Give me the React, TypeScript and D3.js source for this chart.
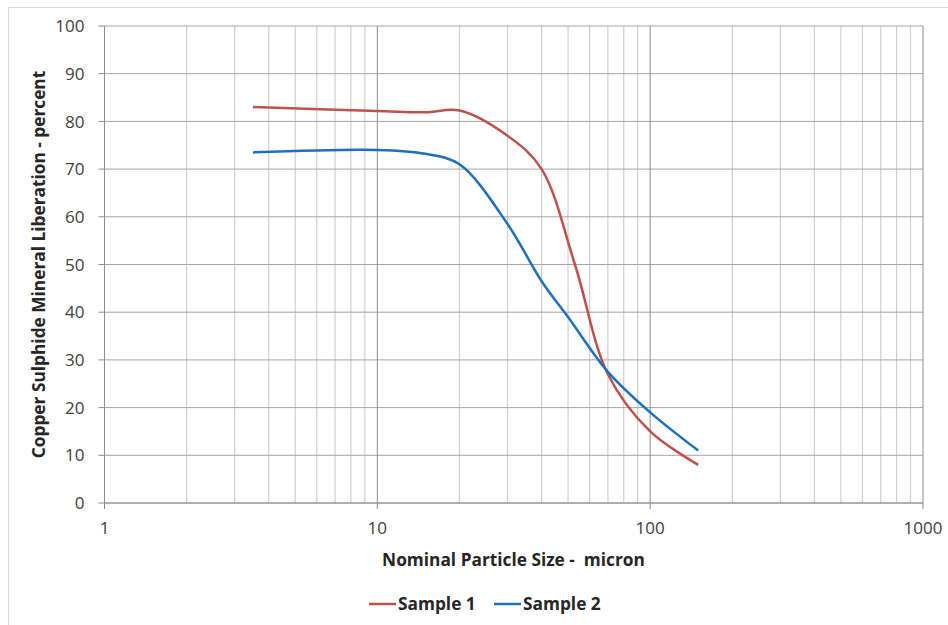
import React from "react";
import * as d3 from "d3";

const sizes1 = [3.5, 10, 15, 20, 30, 40, 53, 70, 100, 150];
const sample1 = [83, 82.2, 81.9, 82.3, 77, 70, 50, 27, 15, 8];
const sizes2 = [3.5, 10, 15, 20, 30, 40, 50, 70, 100, 150];
const sample2 = [73.5, 74, 73.2, 71, 58.5, 46.5, 39, 27.5, 19, 11];
const xTicks = [1, 10, 100, 1000];
const yTicks = [0, 10, 20, 30, 40, 50, 60, 70, 80, 90, 100];
const seriesNames = ["Sample 1", "Sample 2"];
const colors = ["#c0504d", "#1f6fc0"];

const W = 948, H = 625;
const L = 104.5, R = 923, T = 26, B = 503;
const FONT = "'Open Sans', Lato, sans-serif";

export default function App() {
  const x = d3.scaleLog().domain([1, 1000]).range([L, R]);
  const y = d3.scaleLinear().domain([0, 100]).range([B, T]);
  const minor: number[] = [];
  for (const d of [1, 10, 100]) for (let k = 2; k <= 9; k++) minor.push(d * k);
  const line = d3
    .line<[number, number]>()
    .x((d) => x(d[0]))
    .y((d) => y(d[1]))
    .curve(d3.curveCatmullRom.alpha(0.5));
  const data1 = sizes1.map((s, i) => [s, sample1[i]] as [number, number]);
  const data2 = sizes2.map((s, i) => [s, sample2[i]] as [number, number]);

  return (
    <svg
      width={W}
      height={H}
      style={{ position: "absolute", left: 0, top: 0, background: "#fff" }}
      fontFamily={FONT}
    >
      <rect x={8.5} y={7.5} width={W + 10} height={H + 10} fill="#fff" stroke="#d9d9d9" strokeWidth={1} />
      {minor.map((m) => (
        <line key={"mn" + m} x1={x(m)} x2={x(m)} y1={T} y2={B} stroke="#cfcfcf" strokeWidth={1.2} />
      ))}
      {yTicks.map((t) => (
        <line key={"yg" + t} x1={L} x2={R} y1={y(t)} y2={y(t)} stroke="#a6a6a6" strokeWidth={1} />
      ))}
      {xTicks.map((t) => (
        <line key={"xg" + t} x1={x(t)} x2={x(t)} y1={T} y2={B} stroke="#8c8c8c" strokeWidth={1} />
      ))}
      <line x1={L} x2={R} y1={B} y2={B} stroke="#8c8c8c" />
      {xTicks.map((t) => (
        <line key={"xt" + t} x1={x(t)} x2={x(t)} y1={B} y2={B + 6} stroke="#8c8c8c" />
      ))}
      {yTicks.map((t) => (
        <line key={"yt" + t} x1={L - 6} x2={L} y1={y(t)} y2={y(t)} stroke="#8c8c8c" />
      ))}
      {yTicks.map((t) => (
        <text key={"yl" + t} x={L - 20} y={y(t)} dy="0.36em" textAnchor="end" fontSize={17} fill="#404040">
          {t}
        </text>
      ))}
      {xTicks.map((t) => (
        <text key={"xl" + t} x={x(t)} y={B + 25} dy="0.36em" textAnchor="middle" fontSize={17} fill="#404040">
          {t}
        </text>
      ))}
      <path d={line(data1) || ""} fill="none" stroke={colors[0]} strokeWidth={2.5} />
      <path d={line(data2) || ""} fill="none" stroke={colors[1]} strokeWidth={2.5} />
      <text
        transform={`translate(38.5, ${(T + B) / 2}) rotate(-90)`}
        textAnchor="middle"
        fontSize={17.3}
        fontWeight="bold"
        fill="#262626"
        dy="0.36em"
      >
        Copper Sulphide Mineral Liberation - percent
      </text>
      <text x={513.5} y={560} dy="0.36em" textAnchor="middle" fontSize={17.3} fontWeight="bold" fill="#262626" style={{ whiteSpace: "pre" }}>
        Nominal Particle Size -  micron
      </text>
      {seriesNames.map((n, i) => (
        <g key={n} transform={`translate(${369 + i * 125}, 604)`}>
          <line x1={0} x2={27} y1={0} y2={0} stroke={colors[i]} strokeWidth={2.5} />
          <text x={29} y={0} dy="0.36em" fontSize={17.3} fontWeight="bold" fill="#262626">
            {n}
          </text>
        </g>
      ))}
    </svg>
  );
}
